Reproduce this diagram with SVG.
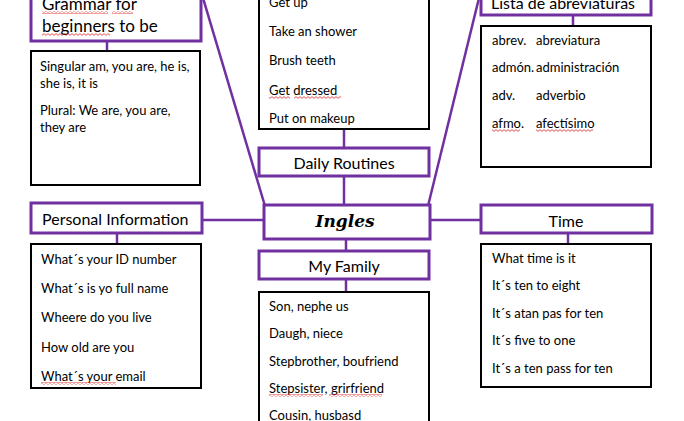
<svg xmlns="http://www.w3.org/2000/svg" width="684" height="421" viewBox="0 0 684 421">
<defs>
<style>
.hd{fill:#fff;stroke:#7030A0;stroke-width:3}
.bx{fill:#fff;stroke:#000;stroke-width:2}
.ln{stroke:#7030A0;stroke-width:2.5;fill:none}
text{font-family:Lato,"Liberation Sans",sans-serif;fill:#000}
.t{font-size:13px}
.h{font-size:16px}
.g{font-size:17px}
.c{text-anchor:middle}
.ing{font-family:"DejaVu Serif","Liberation Serif",serif;font-style:italic;font-weight:bold;font-size:17px}
.sp{fill:url(#wave)}
</style>
<pattern id="wave" width="4" height="3" patternUnits="userSpaceOnUse">
<path d="M0 0.6 L2 2.4 L4 0.6" stroke="#e02020" stroke-width="0.8" fill="none"/>
</pattern>
</defs>
<rect width="684" height="421" fill="#fff"/>
<g id="connectors">
<line class="ln" x1="203" y1="-2" x2="265" y2="206"/>
<line class="ln" x1="479" y1="-2" x2="428" y2="206"/>
<line class="ln" x1="202" y1="220" x2="264" y2="220"/>
<line class="ln" x1="430" y1="220" x2="481" y2="220"/>
<line class="ln" x1="344" y1="130" x2="344" y2="148"/>
<line class="ln" x1="344" y1="176" x2="344" y2="205"/>
<line class="ln" x1="346" y1="239" x2="346" y2="251"/>
<line class="ln" x1="346" y1="279" x2="346" y2="292"/>
<line class="ln" x1="107" y1="41" x2="107" y2="51"/>
<line class="ln" x1="117" y1="233" x2="117" y2="244"/>
<line class="ln" x1="568" y1="233" x2="568" y2="244"/>
<line class="ln" x1="573" y1="15" x2="573" y2="26"/>
</g>
<g id="grammar">
<rect class="hd" x="31" y="-10" width="170" height="51"/>
<text class="g" x="42" y="10">Grammar for</text>
<text class="g" x="42" y="32">beginners to be</text>
<rect class="sp" x="42" y="11" width="66" height="3"/>
<rect class="sp" x="112" y="11" width="21" height="3"/>
<rect class="sp" x="42" y="33" width="68" height="3"/>
</g>
<g id="grammar-list">
<rect class="bx" x="31" y="51" width="169" height="134"/>
<text class="t" x="40" y="71">Singular am, you are, he is,</text>
<text class="t" x="40" y="88">she is, it is</text>
<text class="t" x="40" y="115">Plural: We are, you are,</text>
<text class="t" x="40" y="132">they are</text>
</g>
<g id="routines-list">
<rect class="bx" x="259" y="-10" width="170" height="139"/>
<text class="t" x="269" y="7">Get up</text>
<text class="t" x="269" y="36">Take an shower</text>
<text class="t" x="269" y="65">Brush teeth</text>
<text class="t" x="269" y="95">Get dressed</text>
<text class="t" x="269" y="123">Put on makeup</text>
<rect class="sp" x="269" y="96" width="21" height="3"/>
<rect class="sp" x="294" y="96" width="47" height="3"/>
</g>
<g id="daily-routines">
<rect class="hd" x="259" y="148" width="170" height="28"/>
<text class="h c" x="344" y="169">Daily Routines</text>
</g>
<g id="ingles">
<rect class="hd" x="264" y="205" width="166" height="34"/>
<text class="ing c" x="345" y="227">Ingles</text>
</g>
<g id="lista">
<rect class="hd" x="481" y="-10" width="170" height="25"/>
<text class="h c" x="563" y="9">Lista de abreviaturas</text>
</g>
<g id="lista-list">
<rect class="bx" x="481" y="26" width="170" height="141"/>
<text class="t" x="492" y="45">abrev.</text><text class="t" x="536" y="45">abreviatura</text>
<text class="t" x="492" y="72">admón.</text><text class="t" x="536" y="72">administración</text>
<text class="t" x="492" y="100">adv.</text><text class="t" x="536" y="100">adverbio</text>
<text class="t" x="492" y="128">afmo.</text><text class="t" x="536" y="128">afectísimo</text>
<rect class="sp" x="492" y="129" width="28" height="3"/>
<rect class="sp" x="536" y="129" width="57" height="3"/>
</g>
<g id="personal">
<rect class="hd" x="31" y="203" width="171" height="30"/>
<text class="h" x="42" y="225">Personal Information</text>
</g>
<g id="personal-list">
<rect class="bx" x="31" y="244" width="170" height="144"/>
<text class="t" x="41" y="264">What´s your ID number</text>
<text class="t" x="41" y="293">What´s is yo full name</text>
<text class="t" x="41" y="322">Wheere do you live</text>
<text class="t" x="41" y="352">How old are you</text>
<text class="t" x="41" y="381">What´s your email</text>
<rect class="sp" x="41" y="382" width="75" height="3"/>
</g>
<g id="time">
<rect class="hd" x="481" y="205" width="171" height="28"/>
<text class="h c" x="566" y="227">Time</text>
</g>
<g id="time-list">
<rect class="bx" x="481" y="244" width="170" height="143"/>
<text class="t" x="492" y="263">What time is it</text>
<text class="t" x="492" y="290">It´s ten to eight</text>
<text class="t" x="492" y="318">It´s atan pas for ten</text>
<text class="t" x="492" y="345">It´s five to one</text>
<text class="t" x="492" y="373">It´s a ten pass for ten</text>
</g>
<g id="family">
<rect class="hd" x="259" y="251" width="170" height="28"/>
<text class="h c" x="344" y="272">My Family</text>
</g>
<g id="family-list">
<rect class="bx" x="259" y="292" width="170" height="140"/>
<text class="t" x="269" y="311">Son, nephe us</text>
<text class="t" x="269" y="338">Daugh, niece</text>
<text class="t" x="269" y="366">Stepbrother, boufriend</text>
<text class="t" x="269" y="393">Stepsister, grirfriend</text>
<text class="t" x="269" y="420">Cousin, husbasd</text>
<rect class="sp" x="269" y="394" width="54" height="3"/>
<rect class="sp" x="329" y="394" width="53" height="3"/>
</g>
</svg>
